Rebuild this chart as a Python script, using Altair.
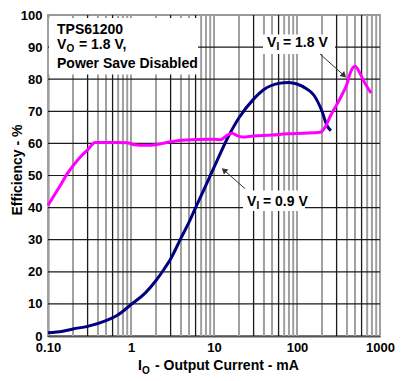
import altair as alt
import pandas as pd

# ---- data ----
cur_09 = [0.1, 0.15, 0.2, 0.3, 0.5, 0.7, 1, 1.5, 2, 2.5, 3, 4, 5, 6, 8, 10, 15, 20,
          30, 40, 60, 80, 100, 130, 160, 200, 230, 256]
eff_09 = [1.0, 1.5, 2.2, 3.0, 4.8, 6.6, 9.8, 13.5, 17.3, 20.8, 24, 30.5, 35.5, 40, 47, 52.5,
          62.3, 68, 73.8, 76.8, 78.7, 79, 78.5, 77, 75, 70, 65.5, 64]

cur_18 = [0.1, 0.12, 0.14, 0.17, 0.2, 0.25, 0.3, 0.37, 0.5, 0.7, 0.9, 1.1, 1.5, 2, 3, 4,
          6, 10, 12, 14, 16.5, 19, 22, 30, 50, 76, 120, 190, 224, 250, 300, 357, 400,
          436, 500, 575, 650, 780]
eff_18 = [40.7, 44, 46.8, 50.5, 53, 56, 58, 60.3, 60.3, 60.3, 60.2, 59.6, 59.4, 59.6,
          60.5, 61, 61.2, 61.3, 61.1, 62.3, 63.2, 62.4, 62, 62.3, 62.6, 63, 63.2, 63.5,
          65.6, 68.3, 72, 75.7, 78.5, 81.8, 84, 81.8, 79, 75.7]

y_ticks = [0, 10, 20, 30, 40, 50, 60, 70, 80, 90, 100]
x_ticks = [0.1, 1, 10, 100, 1000]
x_tick_labels = ["0.10", "1", "10", "100", "1000"]
h_grid = [10, 20, 30, 40, 50, 60, 70, 80, 90]

FONT = "Liberation Sans"
TOP = 7
W, H = 332, 321


def rx(px):
    return px - 48


def ry(py):
    return (py - 7) * H / 329


grid_rows = []
for d in [0.1, 1, 10, 100]:
    for m in range(1, 10):
        grid_rows.append({"v": m * d, "k": "dark" if m in (3, 6) else "light"})
grid_rows.append({"v": 1000, "k": "light"})
grid_df = pd.DataFrame(grid_rows)

xs = alt.Scale(type="log", domain=[0.1, 1000])
ys = alt.Scale(domain=[0, 100])

label_map = "{" + ",".join(f"'{v}':'{l}'" for v, l in zip(x_ticks, x_tick_labels)) + "}"
x_axis = alt.Axis(values=x_ticks, labelExpr=f"{label_map}[toString(datum.value)] || datum.label",
                  grid=False, ticks=False, tickSize=0, title=None)
y_axis = alt.Axis(values=y_ticks, grid=False, ticks=False, tickSize=0, title=None)

one = pd.DataFrame({"k": [0]})

vgrid_light = alt.Chart(grid_df[grid_df.k == "light"]).mark_rule(
    color="#a0a0a0", strokeWidth=2).encode(x=alt.X("v:Q", scale=xs, axis=x_axis))
vgrid_dark = alt.Chart(grid_df[grid_df.k == "dark"]).mark_rule(
    color="#1a1a1a", strokeWidth=1.3).encode(x=alt.X("v:Q", scale=xs, axis=x_axis))
hgrid = alt.Chart(pd.DataFrame({"h": h_grid})).mark_rule(
    color="#1a1a1a", strokeWidth=1.2).encode(y=alt.Y("h:Q", scale=ys, axis=y_axis))


def box(x1, x2, y1, y2):
    return alt.Chart(one).mark_rect(color="white").encode(
        x=alt.value(rx(x1)), x2=alt.value(rx(x2)), y=alt.value(ry(y1)), y2=alt.value(ry(y2)))


boxes = [box(49, 198, 10, 68), box(263, 335, 27, 47), box(243, 305, 187, 208)]

df09 = pd.DataFrame({"i": cur_09, "e": eff_09})
df18 = pd.DataFrame({"i": cur_18, "e": eff_18})
line09 = alt.Chart(df09).mark_line(color="#000080", strokeWidth=3, interpolate="monotone").encode(
    x=alt.X("i:Q", scale=xs, axis=x_axis), y=alt.Y("e:Q", scale=ys, axis=y_axis))
line18 = alt.Chart(df18).mark_line(color="#ff00ff", strokeWidth=3, interpolate="monotone").encode(
    x=alt.X("i:Q", scale=xs, axis=x_axis), y=alt.Y("e:Q", scale=ys, axis=y_axis))


def txt(s, x, y, size=14, angle=0, align="left"):
    return alt.Chart(one).mark_text(text=s, font=FONT, fontSize=size, fontWeight="bold",
                                    color="black", align=align, baseline="alphabetic",
                                    angle=angle).encode(x=alt.value(x), y=alt.value(y))


def ptxt(s, px, py, size=14):
    return txt(s, rx(px), ry(py), size)


texts = [
    ptxt("TPS61200", 57, 26),
    ptxt("V", 57, 42), ptxt("O", 66.5, 45, 10), ptxt("= 1.8 V,", 79, 42),
    ptxt("Power Save Disabled", 57, 61),
    ptxt("V", 267, 40), ptxt("I", 276.5, 43, 10), ptxt("= 1.8 V", 283, 40),
    ptxt("V", 247, 203), ptxt("I", 256.5, 206, 10), ptxt("= 0.9 V", 263, 203),
    # outside the plot: page coordinates minus canvas origin (48, 8 + TOP)
    txt("I", 138 - 48, 370 - 8 - TOP), txt("O", 142 - 48, 374 - 8 - TOP, 10),
    txt("- Output Current - mA", 155 - 48, 370 - 8 - TOP),
    txt("Efficiency - %", 22 - 48, 170 - 8 - TOP, 14, 270, "center"),
]


def arrow(x1, y1, x2, y2, ang):
    r = alt.Chart(one).mark_rule(color="#333333", strokeWidth=1).encode(
        x=alt.value(rx(x1)), y=alt.value(ry(y1)), x2=alt.value(rx(x2)), y2=alt.value(ry(y2)))
    p = alt.Chart(one).mark_point(shape="triangle-up", filled=True, size=45, color="#333333",
                                  opacity=1, angle=ang).encode(x=alt.value(rx(x2)), y=alt.value(ry(y2)))
    return [r, p]


arrows = arrow(320, 47, 344, 69, 133) + arrow(245, 185, 224, 166, 312)

chart = alt.layer(vgrid_light, vgrid_dark, hgrid, *boxes, line09, line18, *arrows, *texts).properties(
    width=W, height=H,
    autosize=alt.AutoSizeParams(type="none"),
    padding={"left": 40, "top": TOP, "right": 25, "bottom": 44},
).configure_view(stroke="#999999", strokeWidth=2).configure_axis(
    labelFont=FONT, labelFontSize=13, labelFontWeight="bold", labelColor="black",
).configure_axisX(domainColor="#555555", domainWidth=2, labelPadding=5, labelAlign="center"
).configure_axisY(domainColor="black", domainWidth=1.5, labelPadding=6)

chart.save("out.html", embed_options={"renderer": "svg", "actions": False})
